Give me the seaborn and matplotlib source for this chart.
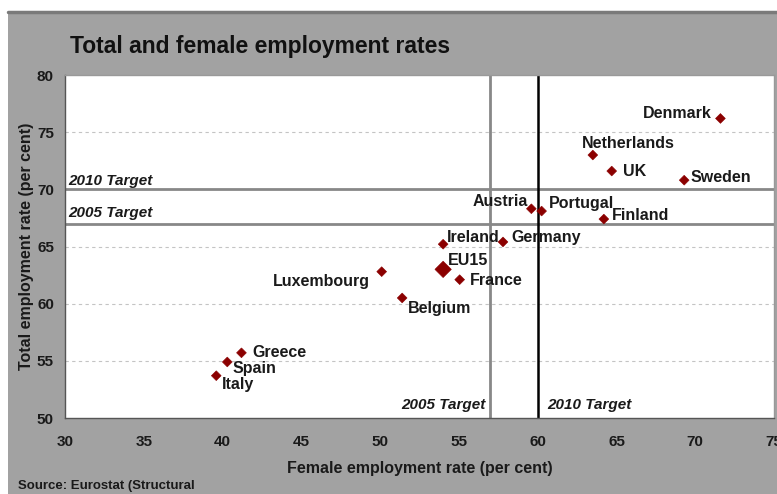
import numpy as np
import pandas as pd
import seaborn as sns
import matplotlib.pyplot as plt
from matplotlib.patches import Rectangle

countries = ['Denmark', 'Netherlands', 'UK', 'Sweden', 'Austria', 'Portugal', 'Finland',
             'Ireland', 'Germany', 'EU15', 'France', 'Luxembourg', 'Belgium',
             'Greece', 'Spain', 'Italy']
female_rate = [71.6, 63.5, 64.7, 69.3, 59.6, 60.25, 64.2,
               54.0, 57.8, 54.0, 55.05, 50.1, 51.4,
               41.2, 40.3, 39.6]
total_rate = [76.2, 73.0, 71.6, 70.8, 68.3, 68.1, 67.4,
              65.2, 65.4, 63.0, 62.1, 62.8, 60.5,
              55.7, 54.9, 53.7]
x_ticks = [30, 35, 40, 45, 50, 55, 60, 65, 70, 75]
y_ticks = [50, 55, 60, 65, 70, 75, 80]

df = pd.DataFrame({'country': countries, 'female': female_rate, 'total': total_rate})
df['size'] = np.where(df['country'] == 'EU15', 70, 25)

sns.set_style('white')
plt.rcParams['font.family'] = ['Liberation Sans', 'DejaVu Sans']

bg = '#a2a2a2'
txt = '#1a1a1a'
fig = plt.figure(figsize=(7.77, 4.94), dpi=100)
fig.patch.set_facecolor('white')
fig.patches.append(Rectangle((8 / 777, 0), 1, 1 - 12 / 494, transform=fig.transFigure,
                             facecolor=bg, edgecolor='none', zorder=-10))
fig.lines.append(plt.Line2D([8 / 777, 1], [1 - 12 / 494, 1 - 12 / 494], transform=fig.transFigure,
                            color='#7a7a7a', lw=2.5))

ax = fig.add_axes([65 / 777, 1 - 418 / 494, (774 - 65) / 777, (418 - 75) / 494])
ax.set_facecolor('white')

for v in [55, 60, 65, 75]:
    ax.axhline(v, color='#c4c4c4', lw=0.8, ls=(0, (3, 3)), zorder=0)

ax.axhline(70, color='#888888', lw=2, zorder=1)
ax.axhline(67, color='#888888', lw=2, zorder=1)
ax.axvline(57, color='#888888', lw=2, zorder=1)
ax.axvline(60, color='black', lw=1.8, zorder=1)

sns.scatterplot(data=df, x='female', y='total', size='size', sizes=(25, 70),
                marker='D', color='#8b0000', edgecolor='#8b0000', legend=False, ax=ax, zorder=3)

# label offsets in pixels: (dx, dy, ha)
offsets = {
    'Denmark': (-9, 5, 'right'), 'Netherlands': (-11, 12, 'left'), 'UK': (11, 0, 'left'),
    'Sweden': (6, 3, 'left'), 'Austria': (-3, 7, 'right'), 'Portugal': (7, 8, 'left'),
    'Finland': (8, 4, 'left'), 'Ireland': (4, 7, 'left'), 'Germany': (8, 4, 'left'),
    'EU15': (5, 9, 'left'), 'France': (10, -1, 'left'), 'Luxembourg': (-12, -10, 'right'),
    'Belgium': (6, -11, 'left'), 'Greece': (11, 0, 'left'), 'Spain': (5, -7, 'left'),
    'Italy': (6, -9, 'left'),
}
for _, r in df.iterrows():
    dx, dy, ha = offsets[r['country']]
    ax.annotate(r['country'], (r['female'], r['total']), xytext=(dx, dy), textcoords='offset pixels',
                ha=ha, va='center', fontsize=11.5, fontweight='bold', color=txt, zorder=4)

tgt = dict(fontsize=11, fontweight='bold', style='italic', color=txt, va='center')
ax.text(3 / 709, 1 - (181 - 75) / 343, '2010 Target', transform=ax.transAxes, **tgt)
ax.text(3 / 709, 1 - (213 - 75) / 343, '2005 Target', transform=ax.transAxes, **tgt)
ax.text(56.7, 1 - (405 - 75) / 343, '2005 Target', transform=ax.get_xaxis_transform(), ha='right', **tgt)
ax.text(60.6, 1 - (405 - 75) / 343, '2010 Target', transform=ax.get_xaxis_transform(), ha='left', **tgt)

ax.set_xlim(30, 75)
ax.set_ylim(50, 80)
ax.set_xticks(x_ticks)
ax.set_yticks(y_ticks)
ax.tick_params(axis='both', labelsize=11, length=4, color='#444444', direction='out')
for lab in ax.get_xticklabels() + ax.get_yticklabels():
    lab.set_fontweight('bold')
    lab.set_color(txt)
ax.tick_params(axis='x', pad=8)
ax.tick_params(axis='y', pad=4)
for s in ax.spines.values():
    s.set_color('#999999')
    s.set_linewidth(1)
ax.spines['left'].set_color('#555555')
ax.spines['bottom'].set_color('#555555')

ax.set_xlabel('Female employment rate (per cent)', fontsize=11.5, fontweight='bold', color=txt, labelpad=9)
ax.set_ylabel('Total employment rate (per cent)', fontsize=11.5, fontweight='bold', color=txt, labelpad=2)

fig.text(70 / 777, 1 - 47 / 494, 'Total and female employment rates', fontsize=16.5, fontweight='bold',
         color='#111111', va='center')
fig.text(18 / 777, 1 - 486 / 494, 'Source: Eurostat (Structural', fontsize=9.5, fontweight='bold',
         color=txt, va='center')

fig.savefig('out.png', dpi=100, facecolor=fig.get_facecolor())
